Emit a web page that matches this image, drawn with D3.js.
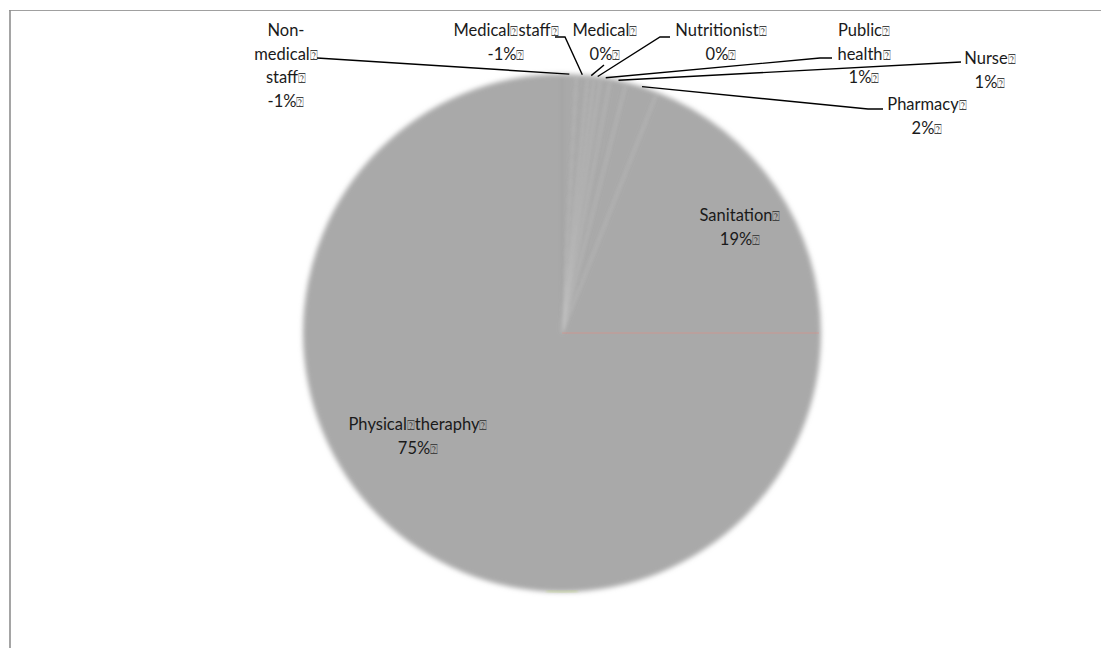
<!DOCTYPE html>
<html>
<head>
<meta charset="utf-8">
<script src="https://cdn.jsdelivr.net/npm/d3@7"></script>
<style>
  html, body { margin: 0; padding: 0; background: #fff; }
  svg { display: block; }
  .lbl { font-family: Lato, "Open Sans", sans-serif; font-size: 16.5px; fill: #1a1a1a; }
  .box { font-family: "DejaVu Sans", sans-serif; font-size: 13px; fill: #444; }
</style>
</head>
<body>
<svg id="chart" width="1101" height="648"></svg>
<script>
// Staff categories, in drawing order (clockwise from 12 o'clock)
const categories = ["Non-medical staff", "Medical staff", "Medical", "Nutritionist",
                    "Public health", "Nurse", "Pharmacy", "Sanitation", "Physical theraphy"];
// Share of each category (percent); negatives are drawn by magnitude
const values = [-0.9, -0.7, 0.4, 0.4, 0.6, 1.0, 2.0, 19.0, 75.0];
// How long names wrap inside their label
const wraps = { "Non-medical staff": ["Non-", "medical", "staff"], "Public health": ["Public", "health"] };

// Label layout: text centre x, first baseline y, and leader path (from label side)
const labelLayout = {
  "Non-medical staff": { x: 286, y: 36, leader: [[317, 58]] },
  "Medical staff":     { x: 506, y: 36, leader: [[555, 37], [565, 37]] },
  "Medical":           { x: 605, y: 36, leader: [[604, 65]] },
  "Nutritionist":      { x: 721, y: 36, leader: [[670, 37], [660, 37]] },
  "Public health":     { x: 864, y: 36, leader: [[832, 58], [820, 58]] },
  "Nurse":             { x: 990, y: 64, leader: [[961, 62]] },
  "Pharmacy":          { x: 927, y: 110, leader: [[883, 109], [868, 109]] },
  "Sanitation":        { x: 740, y: 221, leader: null },
  "Physical theraphy": { x: 418, y: 430, leader: null }
};

const BOX = "\u2370";
const W = 1101, H = 648;
const cx = 562, cy = 333, R = 259;
const lineH = 23.5;

const svg = d3.select("#chart");

// chart frame
svg.append("line").attr("x1", 9).attr("x2", W).attr("y1", 10.5).attr("y2", 10.5)
  .attr("stroke", "#a0a0a0").attr("stroke-width", 1.2);
svg.append("line").attr("x1", 10).attr("x2", 10).attr("y1", 10).attr("y2", H)
  .attr("stroke", "#8e8e8e").attr("stroke-width", 1.6);

const defs = svg.append("defs");
defs.append("filter").attr("id", "soft").attr("x", "-10%").attr("y", "-10%")
  .attr("width", "120%").attr("height", "120%")
  .append("feGaussianBlur").attr("stdDeviation", 2.4);
defs.append("filter").attr("id", "streak")
  .append("feGaussianBlur").attr("stdDeviation", 1.6);

const data = categories.map((c, i) => ({ name: c, value: values[i] }));
const total = d3.sum(data, d => Math.abs(d.value));

const pie = d3.pie().sort(null).value(d => Math.abs(d.value)).startAngle(0).endAngle(2 * Math.PI);
const arcs = pie(data);
const arc = d3.arc().innerRadius(0).outerRadius(R);

const g = svg.append("g").attr("transform", `translate(${cx},${cy})`);
const pieG = g.append("g").attr("filter", "url(#soft)");

pieG.selectAll("path.slice").data(arcs).join("path")
  .attr("class", "slice")
  .attr("d", arc)
  .attr("fill", "#a9a9a9");

// pale seams between the thin slices
const seams = g.append("g").attr("filter", "url(#streak)");
arcs.slice(0, 7).forEach((a, i) => {
  const ang = a.endAngle;
  seams.append("line")
    .attr("x1", 0).attr("y1", 0)
    .attr("x2", (R - 4) * Math.sin(ang)).attr("y2", -(R - 4) * Math.cos(ang))
    .attr("stroke", "#c2c2c2").attr("stroke-width", 1.6).attr("opacity", 0.45);
});
seams.append("line").attr("x1", 0).attr("y1", 0).attr("x2", 0).attr("y2", -(R - 4))
  .attr("stroke", "#9c9c9c").attr("stroke-width", 1.6).attr("opacity", 0.5);

// slice outline at the sanitation / physical theraphy boundary
const bAng = arcs[7].endAngle;
g.append("line").attr("x1", 0).attr("y1", 0)
  .attr("x2", (R - 2) * Math.sin(bAng)).attr("y2", -(R - 2) * Math.cos(bAng))
  .attr("stroke", "#e48a80").attr("stroke-width", 0.8).attr("opacity", 0.7);
g.append("path")
  .attr("d", d3.arc().innerRadius(R - 1).outerRadius(R + 0.5)
    .startAngle(Math.PI - 0.06).endAngle(Math.PI + 0.06)())
  .attr("fill", "#b7d46a").attr("opacity", 0.6).attr("filter", "url(#streak)");

// leader lines
arcs.forEach(a => {
  const lay = labelLayout[a.data.name];
  if (!lay.leader) return;
  const mid = (a.startAngle + a.endAngle) / 2;
  const edge = [cx + R * Math.sin(mid), cy - R * Math.cos(mid)];
  const pts = lay.leader.concat([edge]);
  svg.append("path")
    .attr("d", d3.line()(pts))
    .attr("fill", "none").attr("stroke", "#000").attr("stroke-width", 1.4);
});

// labels
arcs.forEach(a => {
  const name = a.data.name;
  const lay = labelLayout[name];
  let lines;
  if (wraps[name]) {
    lines = wraps[name].map(s => s.endsWith("-") ? [s] : [s, BOX]);
  } else {
    const parts = [];
    name.split(" ").forEach(w => { parts.push(w); parts.push(BOX); });
    lines = [parts];
  }
  const pct = Math.round(a.data.value / total * 100);
  lines.push([pct + "%", BOX]);

  const t = svg.append("text").attr("class", "lbl").attr("text-anchor", "middle");
  lines.forEach((parts, li) => {
    parts.forEach((p, pi) => {
      const ts = t.append("tspan").text(p);
      if (pi === 0) ts.attr("x", lay.x).attr("y", lay.y + li * lineH);
      if (p === BOX) ts.attr("class", "box");
    });
  });
});
</script>
</body>
</html>
